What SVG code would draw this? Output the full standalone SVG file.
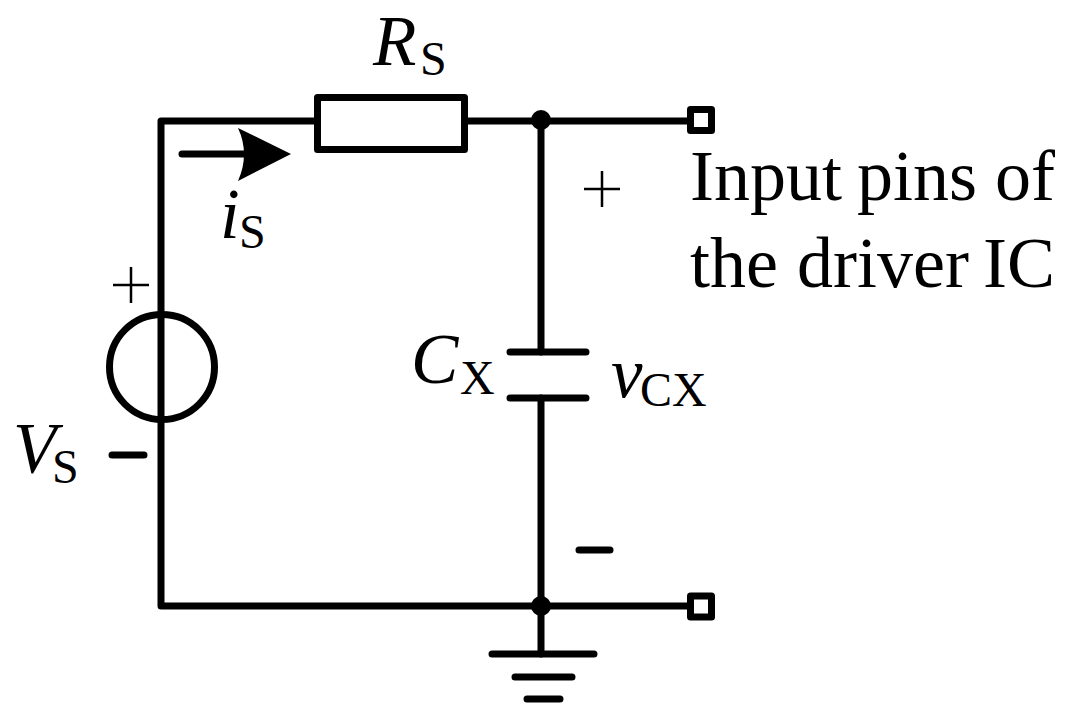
<svg xmlns="http://www.w3.org/2000/svg" width="1078" height="726" viewBox="0 0 1078 726">
<style>
.w{fill:none;stroke:#000;stroke-width:7;stroke-linecap:round;stroke-linejoin:round}
.t{font-family:"Liberation Serif","Times New Roman",serif;fill:#000}
.i{font-style:italic;font-size:71px}
.s{font-size:48px}
.l{font-size:72px}
.p{stroke:#000;fill:none;stroke-width:2.5}
.pin{fill:#fff;stroke:#000;stroke-width:7;stroke-linejoin:round}
</style>
<rect width="1078" height="726" fill="#fff"/>
<g id="connectors">
<path class="w" d="M316 121H161V606H690"/>
<path class="w" d="M466 121H690"/>
<path class="w" d="M541 121V352"/>
<path class="w" d="M541 398V606"/>
<path class="w" d="M541 606V654"/>
<path class="w" d="M182 154H245"/>
<path d="M291 154L238 128Q250 154 238 181Z" fill="#000"/>
</g>
<g id="resistor"><rect class="w" x="317.500" y="97.500" width="147" height="52" style="fill:#fff"/>
<text class="t i" x="373" y="65">R</text><text class="t s" x="420" y="75">S</text></g>
<g id="source"><circle cx="162" cy="367" r="52.500" fill="none" stroke="#000" stroke-width="7"/>
<path class="p" d="M113 285H149M131 267V303"/>
<path class="w" d="M112 455H144"/>
<text class="t i" x="13" y="472">V</text><text class="t s" x="52" y="483">S</text></g>
<g id="current-label"><text class="t i" x="220" y="238">i</text><text class="t s" x="239" y="248">S</text></g>
<g id="capacitor"><path class="w" d="M510 352H586M510 398H586"/>
<text class="t i" x="411" y="383">C</text><text class="t s" x="460" y="394">X</text>
<text class="t i" x="611" y="397">v</text><text class="t s" x="640" y="406">CX</text>
<path class="p" d="M584 189H620M602 171V207"/>
<path class="w" d="M579 550H610"/></g>
<g id="junction-top"><circle cx="541" cy="120" r="10" fill="#000"/></g>
<g id="junction-bottom"><circle cx="541" cy="606" r="10" fill="#000"/></g>
<g id="pin-top"><rect class="pin" x="690.500" y="109.500" width="21" height="21"/></g>
<g id="pin-bottom"><rect class="pin" x="690.500" y="596" width="21" height="21"/></g>
<g id="ground"><path class="w" d="M492 654H594M515 677H572M527 699H560"/></g>
<g id="pins-label"><text class="t l" y="200"><tspan x="690">Input</tspan><tspan x="857">pins</tspan><tspan x="995">of</tspan></text><text class="t l" y="287"><tspan x="690">the</tspan><tspan x="797">driver</tspan><tspan x="983">IC</tspan></text></g>
</svg>
